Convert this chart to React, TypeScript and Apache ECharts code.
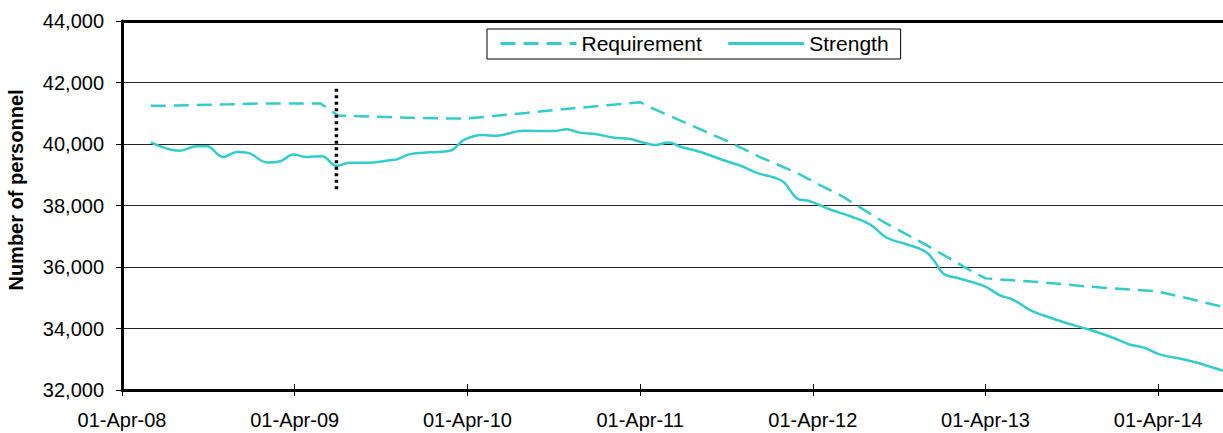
import React, { useEffect, useRef } from "react";
import * as echarts from "echarts";

// x values are months elapsed since 01-Apr-08
const requirementMonths = [2.0, 4.7, 7.5, 9.8, 13.8, 15.0, 17.2, 20.2, 22.5, 24.0, 25.8, 28.1, 30.4, 33.7, 36.0, 36.9, 39.0, 41.1, 42.3, 44.3, 46.9, 48.5, 49.9, 52.9, 55.9, 58.9, 60.0, 63.4, 68.0, 71.9, 73.8, 76.5];
const requirementValues = [41240, 41260, 41290, 41320, 41320, 40930, 40890, 40850, 40830, 40830, 40910, 41010, 41120, 41260, 41360, 41150, 40720, 40290, 40040, 39580, 39060, 38660, 38340, 37470, 36710, 35900, 35630, 35520, 35330, 35210, 35010, 34700];

const strengthMonths = [2.0, 4.0, 5.2, 5.9, 7.0, 8.0, 8.7, 10.1, 11.0, 11.9, 12.8, 13.9, 14.9, 15.8, 17.0, 18.6, 19.1, 20.0, 21.4, 22.8, 23.7, 24.5, 25.1, 26.0, 27.9, 30.0, 30.9, 31.8, 33.0, 34.1, 35.3, 36.2, 37.0, 38.0, 38.8, 40.2, 41.8, 42.9, 44.1, 45.3, 46.0, 46.9, 47.8, 49.2, 50.6, 52.0, 53.1, 54.5, 55.8, 56.4, 57.1, 58.0, 59.9, 61.0, 61.9, 63.1, 64.0, 65.6, 67.3, 68.9, 70.0, 71.0, 72.1, 73.8, 74.9, 76.5];
const strengthValues = [40050, 39780, 39930, 39930, 39580, 39740, 39720, 39400, 39440, 39660, 39580, 39600, 39290, 39390, 39390, 39470, 39500, 39670, 39730, 39780, 40120, 40260, 40290, 40270, 40430, 40420, 40480, 40370, 40320, 40210, 40160, 40050, 39970, 40050, 39910, 39740, 39470, 39310, 39060, 38910, 38750, 38230, 38140, 37870, 37650, 37380, 36960, 36740, 36510, 36220, 35770, 35650, 35380, 35080, 34940, 34600, 34430, 34180, 33950, 33690, 33480, 33380, 33160, 32990, 32860, 32620];

const dividerMonths = [14.9, 14.9];
const dividerValues = [41800, 38500];

const xTickYears = ["08", "09", "10", "11", "12", "13", "14"];
const seriesNames = ["Requirement", "Strength"];

const FONT = "'Liberation Sans', Arial, sans-serif";
const TEAL = "#33CCCC";

export default function App() {
  const ref = useRef<HTMLDivElement>(null);
  useEffect(() => {
    if (!ref.current) return;
    const chart = echarts.init(ref.current, undefined, { renderer: "svg" });
    const xFmt = (v: number) => {
      const k = Math.round(v / 12);
      if (Math.abs(v - k * 12) > 1e-6 || k < 0 || k >= xTickYears.length) return "";
      return "01-Apr-" + xTickYears[k];
    };
    const xBase = { type: "value", min: 0, max: 76.5, interval: 12 };
    chart.setOption({
      animation: false,
      textStyle: { fontFamily: FONT },
      grid: { left: 122, top: 21, right: 0, bottom: 43 },
      legend: {
        data: seriesNames,
        left: 487,
        top: 29,
        orient: "horizontal",
        itemWidth: 76,
        itemHeight: 14,
        itemGap: 25,
        padding: [4, 12, 5, 12],
        borderColor: "#000",
        borderWidth: 1,
        backgroundColor: "#fff",
        itemStyle: { opacity: 0 },
        lineStyle: { width: 3 },
        textStyle: { fontSize: 21, color: "#000", fontFamily: FONT },
      },
      graphic: [
        {
          type: "text",
          x: 16,
          y: 190,
          rotation: Math.PI / 2,
          style: {
            text: "Number of personnel",
            fontSize: 20,
            fontWeight: "bold",
            fontFamily: FONT,
            fill: "#000",
            align: "center",
            verticalAlign: "middle",
          },
        },
      ],
      xAxis: [
        {
          ...xBase,
          position: "bottom",
          axisLine: { show: true, onZero: false, lineStyle: { color: "#000", width: 3 } },
          axisTick: { show: true, inside: false, length: 6, lineStyle: { color: "#000", width: 1 } },
          axisLabel: { show: true, formatter: xFmt, fontSize: 20, color: "#000", margin: 20, fontFamily: FONT, showMaxLabel: false },
          splitLine: { show: false },
        },
        {
          ...xBase,
          position: "bottom",
          axisLine: { show: false },
          axisTick: { show: true, inside: true, length: 6, lineStyle: { color: "#000", width: 1 } },
          axisLabel: { show: false },
          splitLine: { show: false },
        },
        {
          ...xBase,
          position: "top",
          axisLine: { show: true, onZero: false, lineStyle: { color: "#000", width: 3 } },
          axisTick: { show: false },
          axisLabel: { show: false },
          splitLine: { show: false },
        },
      ],
      yAxis: {
        type: "value",
        min: 32000,
        max: 44000,
        interval: 2000,
        axisLine: { show: true, onZero: false, lineStyle: { color: "#000", width: 3 } },
        axisTick: { show: true, inside: false, length: 6, lineStyle: { color: "#000", width: 1 } },
        axisLabel: {
          fontSize: 20,
          color: "#000",
          margin: 18,
          fontFamily: FONT,
          formatter: (v: number) => v.toLocaleString("en-US"),
        },
        splitLine: { show: true, lineStyle: { color: "#222", width: 1 } },
      },
      series: [
        {
          name: "Requirement",
          type: "line",
          xAxisIndex: 0,
          data: requirementMonths.map((m, i) => [m, requirementValues[i]]),
          symbol: "none",
          itemStyle: { color: TEAL },
          lineStyle: { color: TEAL, width: 2.5, type: [15, 8] },
        },
        {
          name: "Strength",
          type: "line",
          xAxisIndex: 0,
          smooth: 0.4,
          data: strengthMonths.map((m, i) => [m, strengthValues[i]]),
          symbol: "none",
          itemStyle: { color: TEAL },
          lineStyle: { color: TEAL, width: 2.5 },
        },
        {
          name: "divider",
          type: "line",
          xAxisIndex: 0,
          silent: true,
          data: dividerMonths.map((m, i) => [m, dividerValues[i]]),
          symbol: "none",
          itemStyle: { color: "#000" },
          lineStyle: { color: "#000", width: 3.5, type: [3, 3.5] },
        },
      ],
    });
    return () => chart.dispose();
  }, []);
  return (
    <div
      ref={ref}
      style={{ position: "absolute", left: 0, top: 0, width: 1223, height: 433, background: "#fff" }}
    />
  );
}
